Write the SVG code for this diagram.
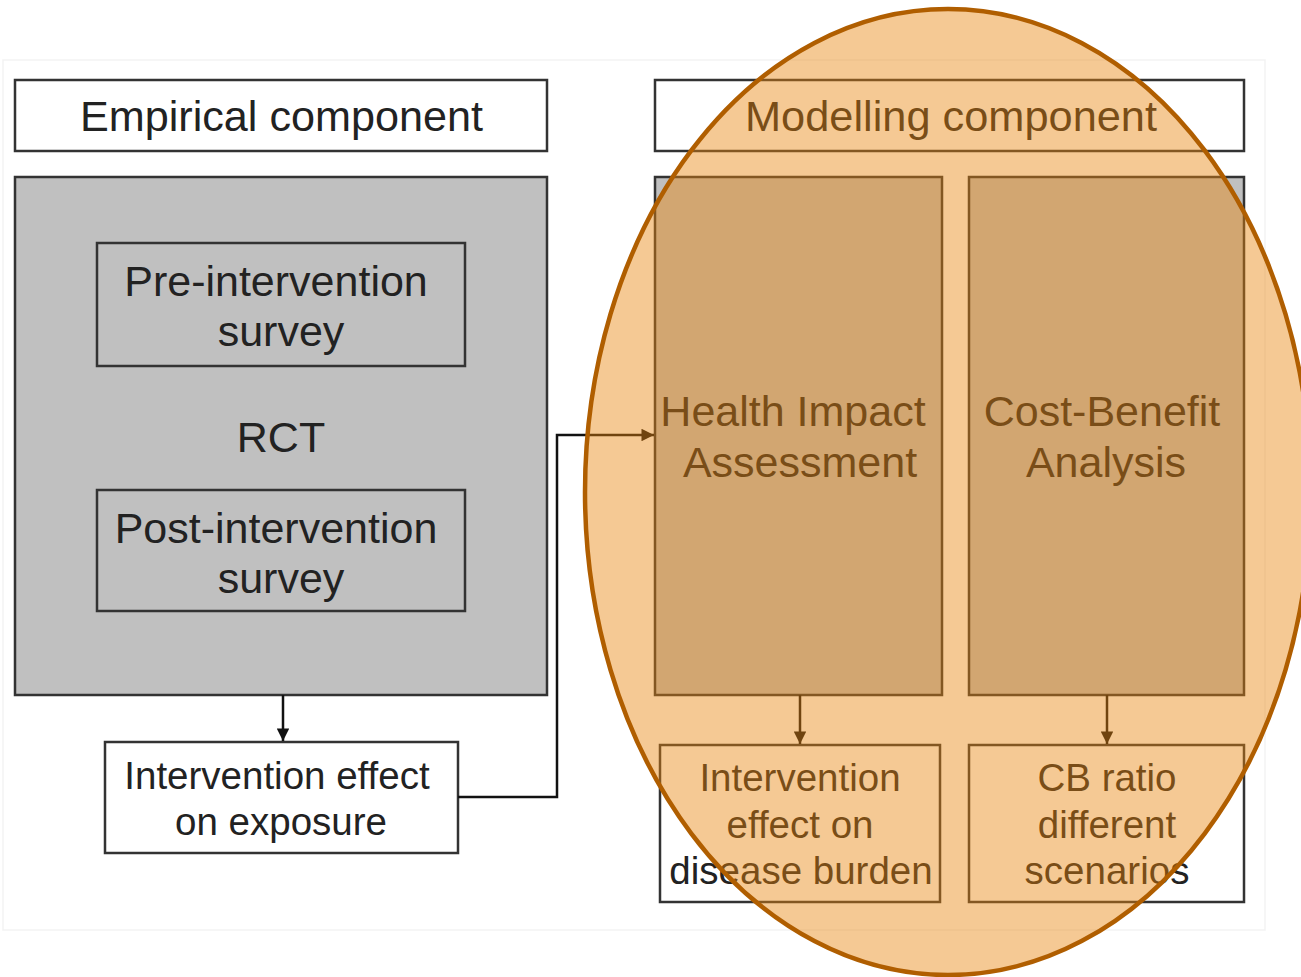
<svg xmlns="http://www.w3.org/2000/svg" width="1301" height="977" viewBox="0 0 1301 977">
<defs>
<style>
.box{stroke:#333;stroke-width:2.5}
.w{fill:#fff}
.g{fill:#c0c0c0}
.t{font-family:"Liberation Sans",Arial,sans-serif;fill:#222;text-anchor:middle}
.big{font-size:43px}
.small{font-size:38.5px}
.conn{fill:none;stroke:#111;stroke-width:2.5}
</style>
<marker id="ah" viewBox="0 0 10 10" refX="10" refY="5" markerWidth="5.5" markerHeight="5" orient="auto" markerUnits="strokeWidth">
<path d="M0,0 L10,5 L0,10 z" fill="#111"/>
</marker>
</defs>
<rect x="0" y="0" width="1301" height="977" fill="#fff"/>
<rect x="3" y="60" width="1262" height="870" fill="none" stroke="#f3f3f3" stroke-width="1.5"/>

<g id="empirical-header">
<rect class="box w" x="15" y="80" width="532" height="71"/>
<text class="t big" x="281.5" y="131" textLength="403" lengthAdjust="spacingAndGlyphs">Empirical component</text>
</g>
<g id="rct">
<rect class="box g" x="15" y="177" width="532" height="518"/>
<text class="t big" x="281" y="452">RCT</text>
</g>
<g id="pre-survey">
<rect class="box g" x="97" y="243" width="368" height="123"/>
<text class="t big" x="276" y="296">Pre-intervention</text>
<text class="t big" x="281" y="346">survey</text>
</g>
<g id="post-survey">
<rect class="box g" x="97" y="490" width="368" height="121"/>
<text class="t big" x="276" y="543">Post-intervention</text>
<text class="t big" x="281" y="593">survey</text>
</g>
<g id="exposure-effect">
<rect class="box w" x="105" y="742" width="353" height="111"/>
<text class="t small" x="277" y="789">Intervention effect</text>
<text class="t small" x="281" y="835">on exposure</text>
</g>
<g id="modelling-header">
<rect class="box w" x="655" y="80" width="589" height="71"/>
<text class="t big" x="951" y="131" textLength="412" lengthAdjust="spacingAndGlyphs">Modelling component</text>
</g>
<g id="hia">
<rect class="box g" x="655" y="177" width="287" height="518"/>
<text class="t big" x="793" y="426">Health Impact</text>
<text class="t big" x="800" y="477">Assessment</text>
</g>
<g id="cba">
<rect class="box g" x="969" y="177" width="275" height="518"/>
<text class="t big" x="1102" y="426">Cost-Benefit</text>
<text class="t big" x="1106" y="477">Analysis</text>
</g>
<g id="disease-burden">
<rect class="box w" x="660" y="745" width="280" height="157"/>
<text class="t small" x="800" y="791">Intervention</text>
<text class="t small" x="800" y="838">effect on</text>
<text class="t small" x="801" y="884">disease burden</text>
</g>
<g id="cb-ratio">
<rect class="box w" x="969" y="745" width="275" height="157"/>
<text class="t small" x="1107" y="791">CB ratio</text>
<text class="t small" x="1107" y="838">different</text>
<text class="t small" x="1107" y="884">scenarios</text>
</g>

<g id="connectors">
<path class="conn" d="M283,695 V741" marker-end="url(#ah)"/>
<path class="conn" d="M458,797 H557 V435 H654" marker-end="url(#ah)"/>
<path class="conn" d="M800,695 V744" marker-end="url(#ah)"/>
<path class="conn" d="M1107,695 V744" marker-end="url(#ah)"/>
</g>

<g id="highlight">
<ellipse cx="948" cy="492" rx="363" ry="483" fill="rgb(233,133,14)" fill-opacity="0.444" stroke="#b05e00" stroke-width="4.5"/>
</g>
</svg>
